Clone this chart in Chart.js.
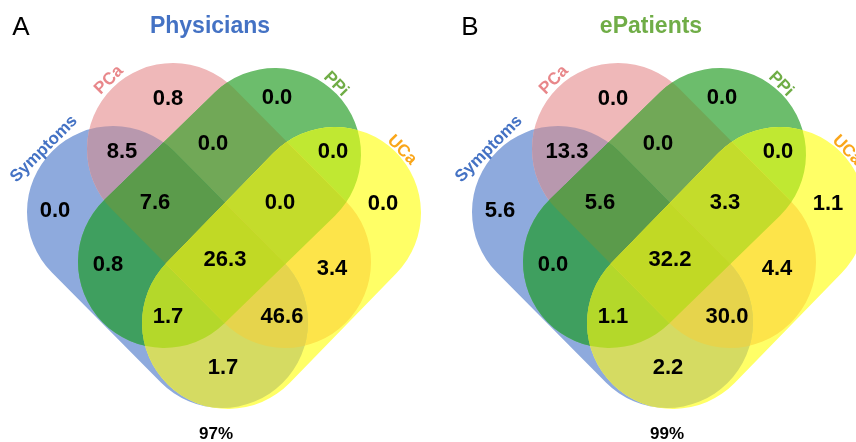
<!DOCTYPE html>
<html>
<head>
<meta charset="utf-8">
<script src="https://cdn.jsdelivr.net/npm/chart.js@4.4.1/dist/chart.umd.min.js"></script>
<style>
  html, body { margin: 0; padding: 0; background: #fff; overflow: hidden; }
  #wrap { width: 856px; height: 442px; }
</style>
</head>
<body>
<div id="wrap"><canvas id="venn" width="856" height="442"></canvas></div>
<script>
// ---- data ----
const categories = ['Symptoms', 'PCa', 'PPi', 'UCa'];
// each region lists the sets it belongs to (indices into categories)
const regions = [
  [0], [1], [2], [3],
  [0, 1], [1, 2], [2, 3], [0, 2], [1, 3], [0, 3],
  [0, 1, 2], [1, 2, 3], [0, 2, 3], [0, 1, 3],
  [0, 1, 2, 3]
];
const physicians = [0.0, 0.8, 0.0, 0.0, 8.5, 0.0, 0.0, 0.8, 3.4, 1.7, 7.6, 0.0, 1.7, 46.6, 26.3];
const ePatients  = [5.6, 0.0, 0.0, 1.1, 13.3, 0.0, 0.0, 0.0, 4.4, 2.2, 5.6, 3.3, 1.1, 30.0, 32.2];
const panelTitles = ['Physicians', 'ePatients'];
const panelLetters = ['A', 'B'];

// ---- layout & style ----
const panelCenters = [225, 670];
const panelTitleX = [210, 651];
const panelLetterX = [21, 470];
const totalOffset = [-9, -3];
const R = 86; // stadium half-width
// end-cap centres of each stadium, relative to the panel centre
const caps = [
  [[-112, 212], [-3, 322]],
  [[-52, 149], [60, 262]],
  [[50, 154], [-61, 262]],
  [[110, 213], [3, 323]]
];
const labelAt = [
  [-170, 211], [-57, 99], [52, 98], [158, 204],
  [-103, 152], [-12, 144], [108, 152], [-117, 265], [107, 269], [-2, 368],
  [-70, 203], [55, 203], [-57, 317], [57, 317],
  [0, 260]
];
const setLabelAt = [[-181, 149, -45], [-116, 80, -45], [111, 84, 45], [177, 150, 45]];
const setColors = ['#4472c4', '#e8878a', '#70ad47', '#faa61a'];
const titleColors = ['#4472c4', '#70ad47'];
const regionFill = [
  '#8eaadd', '#efb8b9', '#6cbd6c', '#ffff66',
  '#b898ae', '#71a857', '#c0e832', '#3f9f5f', '#fde44a', '#d5db62',
  '#5b9b4b', '#c4dc2b', '#b4d82a', '#e6d44c',
  '#c1d925'
];
const FONT = '"Liberation Sans", Arial, Helvetica, sans-serif';

const vennPlugin = {
  id: 'vennShapes',
  beforeDatasetsDraw(chart) {
    const { ctx, scales: { x, y } } = chart;
    const px = v => x.getPixelForValue(v);
    const py = v => y.getPixelForValue(v);
    const rpx = Math.abs(px(R) - px(0));
    panelCenters.forEach(cx => {
      const stadium = k => {
        const [[u1, v1], [u2, v2]] = caps[k];
        const x1 = px(cx + u1), y1 = py(v1), x2 = px(cx + u2), y2 = py(v2);
        const th = Math.atan2(y2 - y1, x2 - x1);
        ctx.beginPath();
        ctx.arc(x2, y2, rpx, th - Math.PI / 2, th + Math.PI / 2);
        ctx.arc(x1, y1, rpx, th + Math.PI / 2, th + 3 * Math.PI / 2);
        ctx.closePath();
      };
      // paint from single sets up to the four-way overlap
      regions.forEach((members, i) => {
        ctx.save();
        members.forEach(k => { stadium(k); ctx.clip(); });
        ctx.fillStyle = regionFill[i];
        ctx.fillRect(0, 0, chart.width, chart.height);
        ctx.restore();
      });
    });
  },
  afterDatasetsDraw(chart) {
    const { ctx, scales: { x, y } } = chart;
    const px = v => x.getPixelForValue(v);
    const py = v => y.getPixelForValue(v);
    ctx.save();
    ctx.textAlign = 'center';
    ctx.textBaseline = 'middle';

    chart.data.datasets.forEach((ds, di) => {
      const cx = panelCenters[di];
      // region values
      ctx.fillStyle = '#000';
      ctx.font = 'bold 22px ' + FONT;
      chart.getDatasetMeta(di).data.forEach((el, i) => {
        ctx.fillText(ds.values[i].toFixed(1), el.x, el.y);
      });
      // set names along the shapes
      ctx.font = 'bold 17px ' + FONT;
      categories.forEach((name, k) => {
        const [u, v, a] = setLabelAt[k];
        ctx.save();
        ctx.translate(px(cx + u), py(v));
        ctx.rotate(a * Math.PI / 180);
        ctx.fillStyle = setColors[k];
        ctx.fillText(name, 0, 0);
        ctx.restore();
      });
      // panel title and letter
      ctx.fillStyle = titleColors[di];
      ctx.font = 'bold 23px ' + FONT;
      ctx.fillText(ds.label, px(panelTitleX[di]), py(27));
      ctx.fillStyle = '#000';
      ctx.font = '26px ' + FONT;
      ctx.fillText(panelLetters[di], px(panelLetterX[di]), py(28));
      // total share covered by the diagram
      const total = ds.values.reduce((s, v) => s + v, 0);
      ctx.font = 'bold 17px ' + FONT;
      ctx.fillText(Math.round(total) + '%', px(cx + totalOffset[di]), py(434));
    });
    ctx.restore();
  }
};

const series = [physicians, ePatients];
new Chart(document.getElementById('venn'), {
  type: 'scatter',
  data: {
    datasets: series.map((vals, di) => ({
      label: panelTitles[di],
      values: vals,
      data: vals.map((v, i) => ({ x: panelCenters[di] + labelAt[i][0], y: labelAt[i][1] })),
      pointRadius: 0,
      pointHoverRadius: 0
    }))
  },
  options: {
    responsive: false,
    animation: false,
    events: [],
    layout: { padding: 0 },
    plugins: { legend: { display: false }, tooltip: { enabled: false }, title: { display: false } },
    scales: {
      x: { type: 'linear', min: 0, max: 856, display: false },
      y: { type: 'linear', min: 0, max: 442, reverse: true, display: false }
    }
  },
  plugins: [vennPlugin]
});
</script>
</body>
</html>
